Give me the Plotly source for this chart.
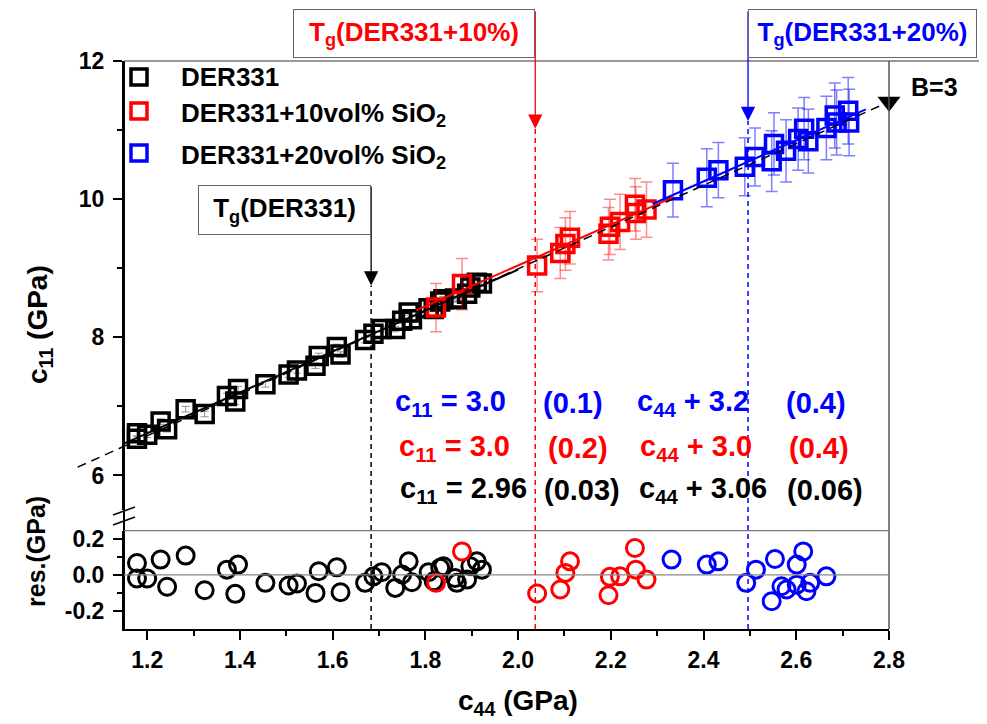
import plotly.graph_objects as go

FONT = "Liberation Sans, Arial, sans-serif"
BLUE = "#0000FF"
RED = "#FF0000"

# ---------------- data ----------------
blk_c44 = [1.178, 1.178, 1.200, 1.229, 1.243, 1.283, 1.324, 1.372, 1.390, 1.396, 1.455, 1.505,
           1.523, 1.570, 1.563, 1.609, 1.617, 1.670, 1.688, 1.706, 1.735, 1.764, 1.750, 1.771,
           1.807, 1.818, 1.832, 1.839, 1.864, 1.868, 1.890, 1.897, 1.911, 1.922]
blk_c11 = [6.61, 6.53, 6.59, 6.78, 6.67, 6.96, 6.89, 7.15, 7.07, 7.25, 7.32, 7.46,
           7.52, 7.73, 7.59, 7.86, 7.75, 7.96, 8.05, 8.12, 8.12, 8.36, 8.24, 8.26,
           8.42, 8.41, 8.52, 8.55, 8.56, 8.55, 8.63, 8.72, 8.79, 8.78]
blk_err = [0.04] * 34
blk_res = [0.066, -0.020, -0.020, 0.085, -0.066, 0.107, -0.085, 0.029, -0.105, 0.057, -0.044, -0.059,
           -0.048, 0.020, -0.100, 0.042, -0.096, -0.044, -0.008, 0.015, -0.072, 0.075, 0.002, -0.041,
           0.015, -0.035, 0.039, 0.048, -0.017, -0.044, -0.026, 0.048, 0.075, 0.029]

red_c44 = [1.823, 1.879, 2.041, 2.091, 2.102, 2.112, 2.195, 2.198, 2.220, 2.252, 2.254, 2.277]
red_c11 = [8.43, 8.77, 9.04, 9.22, 9.35, 9.44, 9.50, 9.60, 9.67, 9.92, 9.80, 9.85]
red_err = [0.35, 0.37, 0.38, 0.37, 0.38, 0.38, 0.38, 0.40, 0.40, 0.38, 0.38, 0.40]
red_res = [-0.044, 0.130, -0.103, -0.081, 0.011, 0.075, -0.113, -0.011, -0.008, 0.149, 0.029, -0.026]

blu_c44 = [2.334, 2.407, 2.432, 2.489, 2.511, 2.547, 2.552, 2.578, 2.604, 2.617, 2.626, 2.665,
           2.683, 2.687, 2.712, 2.714]
blu_c11 = [10.13, 10.31, 10.42, 10.47, 10.61, 10.55, 10.80, 10.70, 10.87, 11.02, 10.84, 11.03,
           11.21, 11.11, 11.28, 11.11]
blu_err = [0.39, 0.42, 0.40, 0.42, 0.42, 0.44, 0.45, 0.45, 0.45, 0.45, 0.46, 0.46,
           0.47, 0.47, 0.48, 0.48]
blu_res_c44 = [2.331, 2.407, 2.432, 2.492, 2.513, 2.554, 2.547, 2.568, 2.579, 2.601, 2.615, 2.601,
               2.622, 2.630, 2.665]
blu_res = [0.085, 0.057, 0.075, -0.044, 0.029, 0.088, -0.146, -0.063, -0.081, 0.057, 0.130, -0.054,
           -0.091, -0.044, -0.008]

# fit lines (end points)
blk_fit_x, blk_fit_y = [1.15, 2.00], [6.46, 8.98]
red_fit_x, red_fit_y = [1.78, 2.335], [8.39, 10.03]
blu_fit_x, blu_fit_y = [2.29, 2.75], [9.93, 11.30]
dash_x, dash_y = [1.05, 2.80], [6.12, 11.41]

# glass transitions
tg_c44 = [1.683, 2.037, 2.496]
tg_tip_c11 = [8.75, 11.02, 11.13]
tg_labels = ["T<sub>g</sub>(DER331)", "T<sub>g</sub>(DER331+10%)", "T<sub>g</sub>(DER331+20%)"]
tg_colors = ["black", RED, BLUE]

series_names = ["DER331", "DER331+10vol% SiO<sub>2</sub>", "DER331+20vol% SiO<sub>2</sub>"]
series_colors = ["black", RED, BLUE]

x_range = [1.15, 2.8]
y_main_range = [5.5, 12]
y_res_range = [-0.3, 0.245]

# ---------------- layout geometry (screen pixels; page body has an 8px margin) ----------------
OFF = 8
W_PX, H_PX = 987, 724
L, R, T, B = 124, 889, 61, 629
PW, PH = R - L, B - T
MAIN_BOTTOM_PX, RES_TOP_PX = 510, 530.7


def px(x):
    return (x - L) / PW


def py(y):
    return (B - y) / PH


main_dom = [py(MAIN_BOTTOM_PX), 1]
res_dom = [0, py(RES_TOP_PX)]


def d2p(xv, yv):
    xp = (xv - x_range[0]) / (x_range[1] - x_range[0])
    yp = main_dom[0] + (yv - y_main_range[0]) / (y_main_range[1] - y_main_range[0]) * (main_dom[1] - main_dom[0])
    return xp, yp


fig = go.Figure()

sq = dict(symbol="square-open", size=17, line=dict(width=3.5))
circ = dict(symbol="circle-open", size=17, line=dict(width=3))

# main squares
fig.add_trace(go.Scatter(x=blk_c44, y=blk_c11, mode="markers", name=series_names[0],
                         marker=dict(color="black", **sq), xaxis="x", yaxis="y2",
                         error_y=dict(type="data", array=blk_err, color="rgba(120,120,120,0.8)",
                                      thickness=1, width=4)))
fig.add_trace(go.Scatter(x=red_c44, y=red_c11, mode="markers", name=series_names[1],
                         marker=dict(color=RED, **sq), xaxis="x", yaxis="y2",
                         error_y=dict(type="data", array=red_err, color="rgba(255,0,0,0.45)",
                                      thickness=1.5, width=6)))
fig.add_trace(go.Scatter(x=blu_c44, y=blu_c11, mode="markers", name=series_names[2],
                         marker=dict(color=BLUE, **sq), xaxis="x", yaxis="y2",
                         error_y=dict(type="data", array=blu_err, color="rgba(0,0,255,0.5)",
                                      thickness=1.5, width=6)))

# fit lines
fig.add_trace(go.Scatter(x=blk_fit_x, y=blk_fit_y, mode="lines", line=dict(color="black", width=2),
                         xaxis="x", yaxis="y2"))
fig.add_trace(go.Scatter(x=red_fit_x, y=red_fit_y, mode="lines", line=dict(color=RED, width=2),
                         xaxis="x", yaxis="y2"))
fig.add_trace(go.Scatter(x=blu_fit_x, y=blu_fit_y, mode="lines", line=dict(color=BLUE, width=2),
                         xaxis="x", yaxis="y2"))
fig.add_trace(go.Scatter(x=dash_x, y=dash_y, mode="lines", line=dict(color="black", width=1.5, dash="9px,6px"),
                         xaxis="x", yaxis="y2"))
fig.add_trace(go.Scatter(x=[dash_x[-1]], y=[dash_y[-1]], mode="markers",
                         marker=dict(symbol="triangle-down", size=20, color="black"),
                         xaxis="x", yaxis="y2", cliponaxis=False))

# residuals
fig.add_trace(go.Scatter(x=blk_c44, y=blk_res, mode="markers", marker=dict(color="black", **circ),
                         xaxis="x", yaxis="y"))
fig.add_trace(go.Scatter(x=red_c44, y=red_res, mode="markers", marker=dict(color=RED, **circ),
                         xaxis="x", yaxis="y"))
fig.add_trace(go.Scatter(x=blu_res_c44, y=blu_res, mode="markers", marker=dict(color=BLUE, **circ),
                         xaxis="x", yaxis="y"))

shapes = []
# left axis continuation through the break
shapes.append(dict(type="line", xref="paper", yref="paper", x0=0, x1=0, y0=0, y1=1,
                   line=dict(color="black", width=2)))
# break marks
for dy in (0, 10):
    shapes.append(dict(type="line", xref="paper", yref="paper",
                       x0=px(113), x1=px(135), y0=py(515 + dy), y1=py(507 + dy),
                       line=dict(color="black", width=1.5)))
# frame lines
shapes.append(dict(type="line", xref="paper", yref="paper", x0=0, x1=px(W_PX), y0=1, y1=1,
                   line=dict(color="#777777", width=1.5)))
shapes.append(dict(type="line", xref="paper", yref="paper", x0=1, x1=1, y0=0, y1=1,
                   line=dict(color="#555555", width=1.5)))
shapes.append(dict(type="line", xref="paper", yref="paper", x0=0, x1=1, y0=res_dom[1], y1=res_dom[1],
                   line=dict(color="#777777", width=1.2)))
shapes.append(dict(type="line", xref="paper", yref="y", x0=0, x1=1, y0=0, y1=0,
                   line=dict(color="#888888", width=1.2)))
# dashed extension of the B=3 line left of the axis
x0p, y0p = d2p(dash_x[0], dash_y[0])
slope = (dash_y[1] - dash_y[0]) / (dash_x[1] - dash_x[0])
x1p, y1p = d2p(x_range[0], dash_y[0] + slope * (x_range[0] - dash_x[0]))
shapes.append(dict(type="line", xref="paper", yref="paper", x0=x0p, y0=y0p, x1=x1p, y1=y1p,
                   line=dict(color="black", width=1.5, dash="9px,6px")))
# Tg dashed verticals
for xv, tip, col in zip(tg_c44, tg_tip_c11, tg_colors):
    _, tipp = d2p(xv, tip)
    shapes.append(dict(type="line", xref="x", yref="paper", x0=xv, x1=xv, y0=0, y1=tipp,
                       line=dict(color=col, width=1.5, dash="5px,4px")))

annotations = []

# legend (drawn by hand to match the row spacing)
leg_rows_px = [77, 111, 153]
for name, col, yc in zip(series_names, series_colors, leg_rows_px):
    shapes.append(dict(type="rect", xref="paper", yref="paper",
                       x0=px(131), x1=px(147), y0=py(yc + 8), y1=py(yc - 8),
                       line=dict(color=col, width=3.5), fillcolor="rgba(0,0,0,0)"))
    annotations.append(dict(x=px(179), y=py(yc + (3 if "<sub>" in name else 0)), xref="paper", yref="paper",
                            xanchor="left", yanchor="middle", text=name, showarrow=False,
                            font=dict(family=FONT, size=26, color="black", weight="bold")))

# Tg arrows
tails_px = [185, 10, 10]
for xv, tip, col, tail in zip(tg_c44, tg_tip_c11, tg_colors, tails_px):
    _, tipp = d2p(xv, tip)
    tip_px = B - tipp * PH
    annotations.append(dict(x=xv, y=tip, xref="x", yref="y2", text="", showarrow=True,
                            ax=0, ay=-(tip_px - tail), arrowhead=2, arrowsize=2.2, arrowwidth=1.3,
                            arrowcolor=col, standoff=0))
# Tg boxes
box_specs = [("right", 185, 171, 48), ("right", 9, 240, 47), ("left", 9, 227, 47)]
for (xa, top, w, h), xv, lab, col in zip(box_specs, tg_c44, tg_labels, tg_colors):
    annotations.append(dict(x=xv, y=py(top), xref="x", yref="paper", xanchor=xa, yanchor="top",
                            text=lab, showarrow=False, width=w, height=h, borderpad=0,
                            bordercolor="#666666", borderwidth=1, bgcolor="white",
                            font=dict(family=FONT, size=26, color=col, weight="bold")))

# equations
eq_font = lambda c: dict(family=FONT, size=29, color=c, weight="bold")
eq_rows = [
    (BLUE, 403, [(393, "c<sub>11</sub> = 3.0"), (541, "(0.1)"), (635, "c<sub>44</sub> + 3.2"), (784, "(0.4)")]),
    (RED, 448, [(397, "c<sub>11</sub> = 3.0"), (546, "(0.2)"), (638, "c<sub>44</sub> + 3.0"), (787, "(0.4)")]),
    ("black", 490, [(398, "c<sub>11</sub> = 2.96"), (542, "(0.03)"), (637, "c<sub>44</sub> + 3.06"), (785, "(0.06)")]),
]
for col, yc, parts in eq_rows:
    for xl, txt in parts:
        annotations.append(dict(x=px(xl), y=py(yc), xref="paper", yref="paper", xanchor="left",
                                yanchor="middle", text=txt, showarrow=False, font=eq_font(col)))

annotations.append(dict(x=px(909), y=py(87), xref="paper", yref="paper", xanchor="left", yanchor="middle",
                        text="B=3", showarrow=False, font=dict(family=FONT, size=25, color="black", weight="bold")))
# axis titles
title_font = dict(family=FONT, size=28, color="black", weight="bold")
annotations.append(dict(x=px(39), y=py(325), xref="paper", yref="paper", text="c<sub>11</sub> (GPa)",
                        xanchor="center", yanchor="middle", textangle=-90, showarrow=False, font=title_font))
annotations.append(dict(x=px(36), y=py(552), xref="paper", yref="paper", text="res.(GPa)",
                        xanchor="center", yanchor="middle", textangle=-90, showarrow=False,
                        font=dict(family=FONT, size=25, color="black", weight="bold")))
annotations.append(dict(x=px(518), y=py(702), xref="paper", yref="paper", text="c<sub>44</sub> (GPa)",
                        xanchor="center", yanchor="middle", showarrow=False, font=title_font))

tickfont = dict(family=FONT, size=23, color="black", weight="bold")

fig.update_layout(
    width=W_PX - OFF, height=H_PX - OFF,
    margin=dict(l=L - OFF, r=W_PX - R, t=T - OFF, b=H_PX - B, pad=0),
    paper_bgcolor="white", plot_bgcolor="white",
    showlegend=False,
    xaxis=dict(domain=[0, 1], range=x_range, anchor="y", showgrid=False, zeroline=False,
               showline=True, linecolor="black", linewidth=2, mirror=False,
               ticks="outside", ticklen=9, tickwidth=2, tickcolor="black",
               tickvals=[1.2, 1.4, 1.6, 1.8, 2.0, 2.2, 2.4, 2.6, 2.8], tickformat=".1f",
               minor=dict(dtick=0.1, tick0=1.1, ticks="outside", ticklen=5, tickwidth=2, tickcolor="black"),
               tickfont=tickfont),
    yaxis=dict(domain=res_dom, range=y_res_range, anchor="x", showgrid=False, zeroline=False,
               showline=True, linecolor="black", linewidth=2,
               ticks="outside", ticklen=9, tickwidth=2, tickcolor="black",
               tickvals=[-0.2, 0.0, 0.2], ticktext=["-0.2", "0.0", "0.2"],
               minor=dict(tickvals=[-0.1, 0.1], ticks="outside", ticklen=5, tickwidth=2, tickcolor="black"),
               tickfont=tickfont, ticklabelstandoff=4),
    yaxis2=dict(domain=main_dom, range=y_main_range, anchor="x", showgrid=False, zeroline=False,
                showline=True, linecolor="black", linewidth=2,
                ticks="outside", ticklen=9, tickwidth=2, tickcolor="black",
                tickvals=[6, 8, 10, 12],
                minor=dict(tickvals=[7, 9, 11], ticks="outside", ticklen=5, tickwidth=2, tickcolor="black"),
                tickfont=tickfont, ticklabelstandoff=4),
    shapes=shapes,
    annotations=annotations,
)

fig.write_html("out.html")
